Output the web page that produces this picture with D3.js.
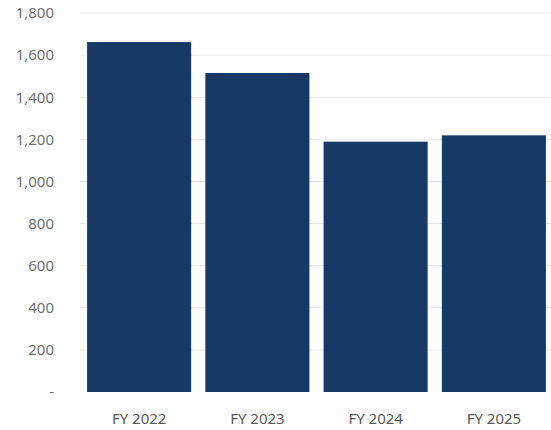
<!DOCTYPE html>
<html><head><meta charset="utf-8">
<script src="https://cdn.jsdelivr.net/npm/d3@7"></script>
<style>body{margin:0;background:#fff}svg{display:block}</style>
</head><body><svg id="c" width="551" height="430"></svg>
<script>
const categories = ["FY 2022", "FY 2023", "FY 2024", "FY 2025"];
const values = [1662, 1515, 1189, 1219];
const yTicks = [0, 200, 400, 600, 800, 1000, 1200, 1400, 1600, 1800];

const svg = d3.select("#c");
const x = d3.scaleBand().domain(categories).range([80, 553]).paddingInner(0.12).paddingOuter(0.06);
const y = d3.scaleLinear().domain([0, 1800]).range([392, 13]);

const fmt = d => d === 0 ? "-" : d3.format(",")(d);

svg.append("g").selectAll("line").data(yTicks.filter(d => d > 0)).join("line")
  .attr("x1", 80).attr("x2", 551)
  .attr("y1", d => y(d)).attr("y2", d => y(d))
  .attr("stroke", "#e8e8e8").attr("stroke-width", 1);

const yAxis = svg.append("g").attr("transform", "translate(54,0)")
  .call(d3.axisLeft(y).tickValues(yTicks).tickFormat(fmt).tickSize(0).tickPadding(0));
yAxis.select(".domain").remove();
yAxis.selectAll("text").attr("fill", "#707070").style("font-family", "'Noto Sans', sans-serif").style("font-size", "15px");

svg.append("g").selectAll("rect").data(values).join("rect")
  .attr("x", (d, i) => x(categories[i]))
  .attr("width", x.bandwidth())
  .attr("y", d => y(d))
  .attr("height", d => y(0) - y(d))
  .attr("fill", "#163a65");

const xAxis = svg.append("g").attr("transform", "translate(0,424)")
  .call(d3.axisBottom(x).tickSize(0).tickPadding(0));
xAxis.select(".domain").remove();
xAxis.selectAll("text").attr("fill", "#5a5a5a").attr("y", 0).attr("dy", 0).style("font-family", "'Noto Sans', sans-serif").style("font-size", "15px");
</script></body></html>
